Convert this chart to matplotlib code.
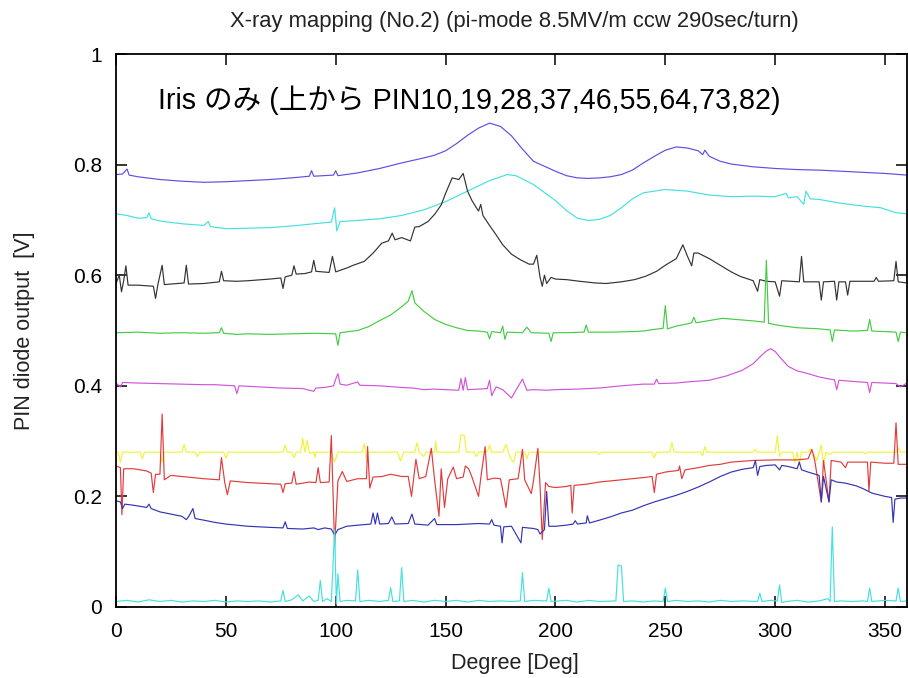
import matplotlib.pyplot as plt

# PIN10 (top, slate blue)
pin10_deg = [0, 3, 5, 6, 10, 20, 30, 40, 50, 55, 60, 70, 80, 88, 89, 90, 99, 100, 101, 110,
             120, 130, 140, 145, 150, 155, 160, 165, 170, 175, 180, 185, 190, 195, 200, 205,
             210, 215, 220, 225, 230, 235, 240, 245, 250, 255, 260, 265, 267, 268, 270, 275,
             280, 290, 300, 310, 320, 330, 340, 350, 360]
pin10_val = [0.782, 0.783, 0.792, 0.781, 0.778, 0.773, 0.770, 0.768, 0.769, 0.770, 0.771, 0.773,
             0.776, 0.779, 0.789, 0.779, 0.781, 0.789, 0.780, 0.785, 0.793, 0.803, 0.812, 0.817,
             0.825, 0.838, 0.853, 0.866, 0.875, 0.869, 0.852, 0.828, 0.806, 0.797, 0.788, 0.780,
             0.776, 0.775, 0.776, 0.778, 0.782, 0.790, 0.803, 0.815, 0.826, 0.832, 0.830, 0.825,
             0.818, 0.826, 0.815, 0.806, 0.801, 0.796, 0.793, 0.791, 0.790, 0.788, 0.786, 0.784,
             0.781]

# PIN19 (cyan)
pin19_deg = [0, 5, 10, 14, 15, 16, 20, 30, 40, 42, 43, 50, 60, 70, 80, 90, 98, 99.5, 100.5, 102,
             110, 120, 130, 140, 150, 160, 170, 178, 182, 190, 200, 205, 210, 215, 220, 225, 230,
             235, 240, 250, 260, 270, 280, 290, 300, 305, 306, 310, 313, 314, 316, 320, 330, 340,
             348, 355, 360]
pin19_val = [0.711, 0.708, 0.703, 0.704, 0.713, 0.702, 0.698, 0.693, 0.690, 0.697, 0.688, 0.684,
             0.685, 0.686, 0.689, 0.693, 0.696, 0.722, 0.680, 0.697, 0.699, 0.702, 0.708, 0.718,
             0.733, 0.752, 0.771, 0.782, 0.780, 0.764, 0.735, 0.717, 0.703, 0.699, 0.701, 0.708,
             0.722, 0.738, 0.749, 0.755, 0.752, 0.745, 0.742, 0.743, 0.742, 0.748, 0.740, 0.742,
             0.728, 0.752, 0.738, 0.737, 0.730, 0.725, 0.722, 0.713, 0.711]

# PIN28 (black)
pin28_deg = [0, 1.5, 2.5, 3.5, 4.5, 5.5, 10, 17, 18, 19, 21, 22, 28, 31, 32, 33, 40, 47, 48, 49,
             55, 60, 70, 75, 76, 77, 80, 81, 82, 86, 89, 90, 91, 97, 98.5, 100, 105, 108, 113,
             117, 121, 124, 125.7, 127, 130, 134, 136, 138, 142, 145, 148, 150, 153, 156, 158,
             160, 162, 164, 165, 166, 167, 170, 173, 176, 180, 184, 188, 190, 191.5, 193, 194,
             195, 196, 198, 200, 205, 211, 218, 223, 230, 236, 241, 246, 250, 255, 258, 260, 262,
             263, 265, 270, 275, 280, 284, 290, 292, 293, 296, 300, 302, 303, 311, 312, 313, 320,
             321, 322, 327, 328, 329, 332, 333, 334, 345, 346, 347, 354, 355, 356, 360]
pin28_val = [0.585, 0.600, 0.570, 0.590, 0.617, 0.582, 0.582, 0.580, 0.558, 0.582, 0.618, 0.583,
             0.585, 0.586, 0.618, 0.584, 0.585, 0.588, 0.607, 0.590, 0.589, 0.590, 0.593, 0.595,
             0.576, 0.597, 0.600, 0.617, 0.602, 0.603, 0.606, 0.627, 0.607, 0.605, 0.634, 0.606,
             0.613, 0.618, 0.625, 0.640, 0.658, 0.662, 0.676, 0.664, 0.668, 0.662, 0.687, 0.688,
             0.697, 0.710, 0.727, 0.748, 0.776, 0.773, 0.784, 0.752, 0.735, 0.722, 0.716, 0.728,
             0.708, 0.690, 0.673, 0.655, 0.638, 0.628, 0.620, 0.620, 0.636, 0.596, 0.580, 0.600,
             0.585, 0.596, 0.593, 0.592, 0.589, 0.586, 0.585, 0.588, 0.592, 0.598, 0.607, 0.618,
             0.630, 0.655, 0.635, 0.617, 0.640, 0.640, 0.630, 0.618, 0.606, 0.598, 0.590, 0.571,
             0.592, 0.589, 0.588, 0.562, 0.590, 0.588, 0.634, 0.588, 0.588, 0.555, 0.588, 0.589,
             0.555, 0.588, 0.588, 0.564, 0.589, 0.589, 0.596, 0.589, 0.590, 0.625, 0.588, 0.586]

# PIN37 (green)
pin37_deg = [0, 10, 20, 30, 40, 47, 48, 49, 55, 60, 70, 80, 90, 100, 101, 102, 110, 115, 120,
             125, 130, 133, 134.7, 136, 140, 145, 150, 155, 160, 165, 169, 170, 171, 175, 176,
             177, 178, 185, 187, 189, 197, 198, 199, 205, 213, 214, 215, 225, 235, 240, 245, 249,
             250, 251, 255, 260, 262, 263, 264, 270, 276, 285, 291, 295, 296, 297, 302, 310, 320,
             325, 326, 327, 335, 342, 343, 344, 350, 355, 356, 357, 360]
pin37_val = [0.496, 0.497, 0.495, 0.496, 0.495, 0.496, 0.505, 0.495, 0.493, 0.494, 0.493, 0.494,
             0.495, 0.494, 0.473, 0.496, 0.500, 0.507, 0.518, 0.528, 0.543, 0.553, 0.572, 0.550,
             0.535, 0.520, 0.511, 0.505, 0.500, 0.499, 0.497, 0.485, 0.498, 0.496, 0.508, 0.484,
             0.497, 0.496, 0.506, 0.496, 0.495, 0.480, 0.496, 0.496, 0.497, 0.510, 0.497, 0.497,
             0.498, 0.499, 0.502, 0.504, 0.545, 0.503, 0.508, 0.512, 0.514, 0.524, 0.514, 0.518,
             0.522, 0.519, 0.517, 0.515, 0.627, 0.513, 0.509, 0.505, 0.503, 0.501, 0.480, 0.501,
             0.499, 0.500, 0.520, 0.499, 0.498, 0.497, 0.480, 0.497, 0.496]

# PIN46 (magenta)
pin46_deg = [0, 2, 3, 10, 20, 30, 40, 45, 54, 55, 56, 65, 75, 85, 90, 91, 95, 99, 100, 101, 102,
             105, 110, 111, 120, 130, 135, 140, 145, 150, 156, 157, 158, 159, 160, 165, 169, 170,
             171, 173, 176, 180, 182, 185, 187, 190, 196, 200, 210, 220, 230, 240, 245, 246, 247,
             255, 260, 270, 278, 285, 290, 293, 296, 298, 300, 303, 306, 310, 315, 320, 325, 327,
             328, 329, 335, 342, 343, 344, 350, 355, 357, 360]
pin46_val = [0.405, 0.398, 0.406, 0.405, 0.404, 0.403, 0.402, 0.402, 0.400, 0.386, 0.400, 0.398,
             0.396, 0.395, 0.390, 0.396, 0.397, 0.400, 0.412, 0.422, 0.403, 0.401, 0.407, 0.401,
             0.400, 0.397, 0.396, 0.393, 0.394, 0.393, 0.392, 0.413, 0.392, 0.415, 0.393, 0.394,
             0.395, 0.410, 0.382, 0.398, 0.393, 0.378, 0.392, 0.412, 0.392, 0.393, 0.392, 0.393,
             0.394, 0.396, 0.400, 0.403, 0.403, 0.412, 0.404, 0.405, 0.407, 0.410, 0.418, 0.428,
             0.440, 0.452, 0.463, 0.467, 0.462, 0.448, 0.435, 0.427, 0.422, 0.416, 0.412, 0.411,
             0.393, 0.410, 0.408, 0.406, 0.388, 0.406, 0.405, 0.404, 0.398, 0.405]

# PIN55 (yellow)
pin55_deg = [0, 1, 2, 3, 11, 12, 13, 20, 21, 22, 30, 31, 32, 36, 37, 38, 49, 50, 51, 76, 77, 78,
             80, 81, 82, 84, 85, 86, 87, 88, 90, 90.5, 91, 98, 99.5, 101, 112, 113, 114, 115, 128,
             129.5, 131, 136, 137, 138, 140, 141, 145, 145.5, 146, 156, 157, 158.5, 159.5, 163,
             164, 165, 169, 170, 171, 176, 177.5, 179, 180, 181, 182, 186, 187, 188, 200, 210,
             219, 220, 221, 244, 245, 246, 252, 253, 254, 266, 267, 268, 269, 290, 291, 292, 300,
             301, 302, 303, 308, 309, 310, 311, 312, 315, 316, 317, 319, 320, 321, 322, 323, 325,
             326, 340, 341, 342, 355, 356, 357, 360]
pin55_val = [0.281, 0.280, 0.262, 0.280, 0.280, 0.268, 0.280, 0.280, 0.262, 0.280, 0.280, 0.294,
             0.280, 0.280, 0.272, 0.280, 0.280, 0.269, 0.280, 0.280, 0.293, 0.280, 0.280, 0.270,
             0.280, 0.280, 0.305, 0.280, 0.302, 0.278, 0.280, 0.270, 0.280, 0.280, 0.262, 0.280,
             0.280, 0.295, 0.270, 0.280, 0.280, 0.264, 0.280, 0.280, 0.297, 0.280, 0.272, 0.280,
             0.280, 0.300, 0.280, 0.280, 0.311, 0.310, 0.280, 0.280, 0.272, 0.280, 0.281, 0.293,
             0.280, 0.280, 0.294, 0.275, 0.266, 0.262, 0.280, 0.280, 0.268, 0.280, 0.280, 0.280,
             0.280, 0.276, 0.280, 0.280, 0.270, 0.280, 0.280, 0.297, 0.280, 0.280, 0.274, 0.290,
             0.280, 0.280, 0.285, 0.280, 0.280, 0.310, 0.272, 0.280, 0.280, 0.262, 0.280, 0.258,
             0.280, 0.280, 0.286, 0.280, 0.265, 0.280, 0.293, 0.257, 0.280, 0.276, 0.280, 0.280,
             0.277, 0.280, 0.280, 0.288, 0.280, 0.280]

# PIN64 (red)
pin64_deg = [0, 2, 2.7, 3.5, 8, 14, 16, 17, 18, 20, 21, 22, 25, 30, 40, 47, 48, 49.5, 50.7, 52,
             60, 70, 75, 76, 77, 80, 81, 82, 88, 91, 92, 93, 97, 98, 99.5, 101, 103, 105, 110,
             114, 114.5, 115.5, 117, 121, 125, 130, 133, 134.5, 136.5, 138, 141, 143.5, 145, 147,
             148, 149.5, 151, 153.5, 155, 158, 159, 160.5, 162, 165, 166, 168, 169, 172, 175,
             177.5, 179, 183, 185, 186, 189, 190, 192, 193, 194, 195.5, 197, 200, 205, 207, 207.6,
             208.5, 214, 220, 230, 240, 244, 245, 246, 250, 256, 256.5, 257.5, 259, 265, 270, 275,
             280, 290, 300, 305, 310, 315, 316.7, 318, 321, 322, 324.5, 325.5, 330, 332, 333, 340,
             342, 342.7, 343.5, 350, 354, 355, 356, 360]
pin64_val = [0.255, 0.252, 0.167, 0.250, 0.250, 0.246, 0.242, 0.207, 0.240, 0.240, 0.349, 0.230,
             0.238, 0.236, 0.232, 0.230, 0.270, 0.225, 0.203, 0.228, 0.225, 0.223, 0.222, 0.207,
             0.223, 0.224, 0.245, 0.222, 0.226, 0.225, 0.252, 0.225, 0.226, 0.310, 0.110, 0.228,
             0.245, 0.227, 0.232, 0.232, 0.290, 0.215, 0.235, 0.236, 0.240, 0.236, 0.236, 0.200,
             0.267, 0.232, 0.236, 0.287, 0.230, 0.164, 0.250, 0.180, 0.232, 0.253, 0.232, 0.235,
             0.255, 0.250, 0.235, 0.200, 0.233, 0.290, 0.230, 0.233, 0.232, 0.180, 0.230, 0.232,
             0.285, 0.230, 0.205, 0.228, 0.287, 0.220, 0.122, 0.225, 0.218, 0.216, 0.218, 0.220,
             0.170, 0.220, 0.222, 0.226, 0.230, 0.234, 0.236, 0.207, 0.240, 0.244, 0.247, 0.255,
             0.232, 0.248, 0.252, 0.256, 0.258, 0.262, 0.265, 0.266, 0.266, 0.266, 0.268, 0.285,
             0.265, 0.190, 0.265, 0.190, 0.265, 0.262, 0.252, 0.262, 0.262, 0.262, 0.210, 0.262,
             0.260, 0.260, 0.333, 0.258, 0.258]

# PIN73 (dark blue)
pin73_deg = [0, 2, 3, 4, 8, 14, 15, 16, 20, 25, 30, 32, 33, 35, 36, 40, 45, 50, 60, 70, 76, 77,
             78, 85, 90, 92, 95, 98, 99.5, 101, 105, 110, 116, 117, 118, 119, 120, 124, 125.5,
             127, 133, 134.7, 136, 142, 145, 146, 155, 160, 165, 170, 171, 172, 175, 175.7, 176.5,
             180, 184.3, 185, 190, 192, 193, 195, 196, 197, 200, 205, 208, 209, 210, 214, 214.5,
             215.5, 220, 225, 230, 235, 240, 245, 250, 255, 260, 265, 270, 275, 280, 285, 290,
             291, 292, 293, 296, 300, 302, 303, 306, 310, 311, 312, 315, 320, 321, 322, 324.5,
             325.5, 328, 332, 337, 340, 344, 350, 353, 353.7, 354.5, 357, 360]
pin73_val = [0.192, 0.190, 0.178, 0.186, 0.184, 0.180, 0.186, 0.178, 0.172, 0.168, 0.164, 0.158,
             0.163, 0.178, 0.160, 0.157, 0.153, 0.150, 0.146, 0.144, 0.143, 0.154, 0.142, 0.141,
             0.143, 0.140, 0.143, 0.141, 0.130, 0.140, 0.146, 0.148, 0.150, 0.170, 0.150, 0.170,
             0.150, 0.151, 0.163, 0.150, 0.151, 0.168, 0.150, 0.148, 0.160, 0.149, 0.149, 0.150,
             0.151, 0.150, 0.158, 0.148, 0.146, 0.116, 0.145, 0.146, 0.116, 0.144, 0.142, 0.140,
             0.132, 0.140, 0.209, 0.146, 0.146, 0.148, 0.150, 0.156, 0.150, 0.152, 0.165, 0.152,
             0.157, 0.163, 0.170, 0.175, 0.183, 0.190, 0.196, 0.202, 0.209, 0.217, 0.226, 0.236,
             0.244, 0.249, 0.252, 0.265, 0.238, 0.254, 0.256, 0.257, 0.248, 0.256, 0.254, 0.250,
             0.262, 0.248, 0.244, 0.238, 0.190, 0.236, 0.190, 0.230, 0.226, 0.224, 0.219, 0.214,
             0.206, 0.200, 0.198, 0.153, 0.195, 0.197, 0.197]

# PIN82 (bottom, cyan)
pin82_deg = [0, 5, 10, 15, 20, 25, 30, 35, 40, 45, 50, 55, 60, 65, 70, 75, 76, 77, 80, 83, 85,
             88, 90, 92, 93, 94, 96, 98, 99.5, 100.3, 101, 102, 105, 109, 110, 111, 115, 120, 124,
             125, 126, 129, 130, 131, 135, 140, 145, 150, 155, 160, 165, 170, 175, 180, 184, 185,
             186, 190, 196, 197, 198, 205, 210, 215, 220, 227.5, 228.5, 230, 231, 235, 240, 245,
             249, 250, 251, 255, 260, 265, 270, 275, 280, 285, 292, 293, 294, 298, 301, 302, 303,
             305, 310, 315, 320, 324, 325, 326, 327, 330, 335, 340, 342, 343, 344, 350, 355, 356,
             357, 360]
pin82_val = [0.010, 0.012, 0.009, 0.013, 0.010, 0.012, 0.009, 0.011, 0.010, 0.012, 0.009, 0.011,
             0.010, 0.011, 0.009, 0.011, 0.030, 0.010, 0.013, 0.022, 0.011, 0.020, 0.010, 0.012,
             0.048, 0.010, 0.015, 0.010, 0.140, 0.005, 0.060, 0.010, 0.012, 0.011, 0.067, 0.010,
             0.012, 0.010, 0.012, 0.035, 0.010, 0.011, 0.071, 0.010, 0.012, 0.009, 0.012, 0.010,
             0.012, 0.009, 0.012, 0.010, 0.011, 0.010, 0.011, 0.062, 0.010, 0.012, 0.011, 0.034,
             0.010, 0.012, 0.009, 0.012, 0.010, 0.011, 0.076, 0.074, 0.010, 0.011, 0.009, 0.011,
             0.010, 0.034, 0.010, 0.012, 0.010, 0.011, 0.009, 0.012, 0.010, 0.011, 0.010, 0.025,
             0.010, 0.012, 0.011, 0.040, 0.008, 0.010, 0.012, 0.009, 0.011, 0.015, 0.010, 0.145,
             0.010, 0.011, 0.010, 0.011, 0.010, 0.034, 0.010, 0.012, 0.011, 0.034, 0.010, 0.011]

series = [
    (pin10_deg, pin10_val, "#5b50e4"),
    (pin19_deg, pin19_val, "#45e0e0"),
    (pin28_deg, pin28_val, "#333333"),
    (pin37_deg, pin37_val, "#45cc45"),
    (pin46_deg, pin46_val, "#d254d8"),
    (pin55_deg, pin55_val, "#f2f23a"),
    (pin64_deg, pin64_val, "#e03c3c"),
    (pin73_deg, pin73_val, "#3434b4"),
    (pin82_deg, pin82_val, "#45e0e0"),
]

x_ticks = [0, 50, 100, 150, 200, 250, 300, 350]
y_ticks = [0, 0.2, 0.4, 0.6, 0.8, 1.0]
y_tick_labels = ["0", "0.2", "0.4", "0.6", "0.8", "1"]

title = "X-ray mapping (No.2) (pi-mode 8.5MV/m ccw 290sec/turn)"
note = "Iris のみ (上から PIN10,19,28,37,46,55,64,73,82)"

plt.rcParams["font.family"] = ["Liberation Sans", "Noto Sans CJK JP", "DejaVu Sans"]

fig = plt.figure(figsize=(9.08, 6.78), dpi=100)
ax = fig.add_axes([116 / 908, 71 / 678, 791 / 908, 553 / 678])

for xs, ys, c in series:
    ax.plot(xs, ys, color=c, lw=0.85)

ax.set_xlim(0, 360)
ax.set_ylim(0, 1)
ax.set_xticks(x_ticks)
ax.set_yticks(y_ticks, labels=y_tick_labels)
ax.tick_params(direction="in", length=8, width=1.1, top=True, right=True,
               labelsize=15, pad=10)
ax.tick_params(axis="x", pad=11)
for sp in ax.spines.values():
    sp.set_linewidth(1.3)

ax.text(19.0, 0.916, note, fontsize=20.6, ha="left", va="center")

fig.text(514 / 908, 1 - 22 / 678, title, fontsize=15.8, ha="center", va="center", color="#222222")
fig.text(515 / 908, 1 - 663 / 678, "Degree [Deg]", fontsize=15.5, ha="center", va="center",
         color="#222222")
fig.text(25 / 908, 1 - 331 / 678, "PIN diode output  [V]", fontsize=15.5, rotation=90,
         ha="center", va="center", color="#222222")

fig.savefig("out.png", dpi=100)
